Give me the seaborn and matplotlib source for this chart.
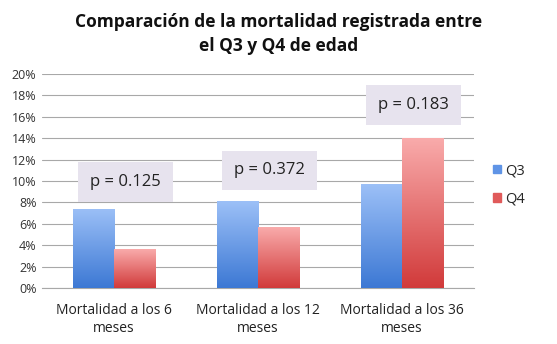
import seaborn as sns
import pandas as pd
import numpy as np
import matplotlib.pyplot as plt
from matplotlib.colors import LinearSegmentedColormap
from matplotlib.patches import Patch

# data
categories = ["Mortalidad a los 6\nmeses", "Mortalidad a los 12\nmeses", "Mortalidad a los 36\nmeses"]
q3 = [7.4, 8.1, 9.7]
q4 = [3.6, 5.7, 14.0]
p_values = ["p = 0.125", "p = 0.372", "p = 0.183"]
p_pos_y = [9.9, 11.0, 17.1]

df = pd.DataFrame({
    "cat": categories * 2,
    "val": q3 + q4,
    "grupo": ["Q3"] * 3 + ["Q4"] * 3,
})

sns.set_style("white")
plt.rcParams['font.family'] = ['Open Sans', 'DejaVu Sans']

fig = plt.figure(figsize=(5.57, 3.44), dpi=100)
ax = fig.add_axes([42 / 557, 1 - 288 / 344, (474 - 42) / 557, (288 - 74) / 344])

base = {"Q3": "#4f86db", "Q4": "#d94545"}
sns.barplot(data=df, x="cat", y="val", hue="grupo", palette=base, width=0.57,
            saturation=1, ax=ax, legend=False, zorder=2)

# gradient fill on each bar (light on top, dark at bottom)
cmaps = {
    "Q3": LinearSegmentedColormap.from_list("q3", ["#3c78d4", "#9cc0f7"]),
    "Q4": LinearSegmentedColormap.from_list("q4", ["#d13a3a", "#f9abab"]),
}
grad = np.linspace(0, 1, 256).reshape(-1, 1)
for i, patch in enumerate(ax.patches):
    key = "Q3" if i < 3 else "Q4"
    x0, y0 = patch.get_x(), patch.get_y()
    w, h = patch.get_width(), patch.get_height()
    im = ax.imshow(grad, cmap=cmaps[key], origin="lower", aspect="auto",
                   extent=[x0, x0 + w, y0, y0 + h], zorder=3)
    im.set_clip_path(patch)
    patch.set_alpha(0)

ax.set_xlim(-0.5, 2.5)
ax.set_ylim(0, 20)
ax.set_yticks(np.arange(0, 21, 2))
ax.set_yticklabels([f"{t}%" for t in range(0, 21, 2)], fontsize=9, color="#333333")
ax.tick_params(axis="x", labelsize=10, colors="#222222", length=0, pad=11)
ax.tick_params(axis="y", length=0, pad=4)
for lbl in ax.get_xticklabels():
    lbl.set_linespacing(1.25)
ax.grid(axis="y", color="#a8a8a8", linewidth=0.8, zorder=0)
ax.set_axisbelow(True)
ax.set_xlabel("")
ax.set_ylabel("")
for s in ["top", "right", "left"]:
    ax.spines[s].set_visible(False)
ax.spines["bottom"].set_color("#a8a8a8")
ax.spines["bottom"].set_linewidth(0.8)

# p-value boxes
for i, (txt, yv) in enumerate(zip(p_values, p_pos_y)):
    ax.text(i + 0.08, yv, txt, ha="center", va="center", fontsize=12, color="#222222",
            zorder=5, bbox=dict(boxstyle="square,pad=0.7", fc="#e7e3ee", ec="none"))

# legend
handles = [Patch(color="#5f94e6", label="Q3"), Patch(color="#e05a5a", label="Q4")]
fig.legend(handles=handles, loc="center left", bbox_to_anchor=(480 / 557, 1 - 185 / 344),
           frameon=False, fontsize=10.5, handlelength=0.55, handleheight=0.55,
           handletextpad=0.3, labelspacing=0.95)

fig.text(0.5, 1 - 34 / 344, "Comparación de la mortalidad registrada entre\nel Q3 y Q4 de edad",
         ha="center", va="center", fontsize=12.5, fontweight="bold", color="#111111",
         linespacing=1.4)

fig.savefig("out.png", dpi=100, facecolor="white")
